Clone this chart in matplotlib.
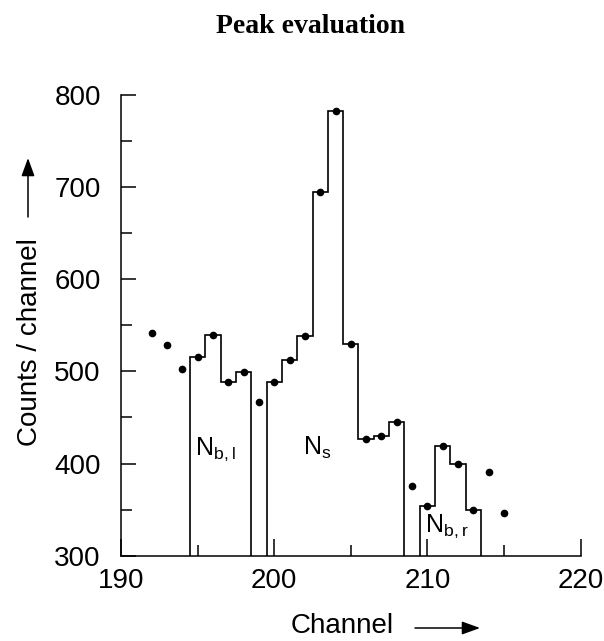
import matplotlib
matplotlib.use('Agg')
import matplotlib.pyplot as plt
import numpy as np
from matplotlib.ticker import MultipleLocator

# counts per channel (dots)
channels = np.arange(192, 216)
counts = [542, 529, 503, 516, 539, 489, 499, 467, 489, 512, 538, 695,
          783, 530, 427, 430, 445, 376, 354, 419, 399, 350, 391, 346]

# channels that belong to the three histogram regions
left_bg = [195, 196, 197, 198]
signal = [200, 201, 202, 203, 204, 205, 206, 207, 208]
right_bg = [210, 211, 212, 213]

region_labels = [r'N$_{\mathrm{b,l}}$', r'N$_{\mathrm{s}}$', r'N$_{\mathrm{b,r}}$']
label_pos = [(194.85, 409), (201.9, 409), (209.85, 326)]

xticks = [190, 200, 210, 220]
yticks = [300, 400, 500, 600, 700, 800]

plt.rcParams['font.family'] = 'Liberation Sans'
plt.rcParams['mathtext.fontset'] = 'custom'
plt.rcParams['mathtext.rm'] = 'Liberation Sans'

fig = plt.figure(figsize=(6.04, 6.41), dpi=100)
ax = fig.add_axes([0.2003, 0.1331, 0.7611, 0.7187])

lookup = dict(zip(channels, counts))
for region in (left_bg, signal, right_bg):
    vals = [lookup[c] for c in region]
    edges = np.append(np.array(region) - 0.5, region[-1] + 0.5)
    ax.stairs(vals, edges, baseline=300, color='black', lw=1.2)

ax.plot(channels, counts, 'o', color='black', ms=4.5)

for txt, (x, y) in zip(region_labels, label_pos):
    ax.text(x, y, txt, fontsize=18, ha='left', va='baseline')

ax.set_xlim(190, 220)
ax.set_ylim(300, 800)
ax.set_xticks(xticks)
ax.set_yticks(yticks)
ax.xaxis.set_minor_locator(MultipleLocator(5))
ax.yaxis.set_minor_locator(MultipleLocator(50))
ax.spines[['top', 'right']].set_visible(False)
for s in ('left', 'bottom'):
    ax.spines[s].set_linewidth(1.1)

ax.tick_params(axis='y', which='major', direction='in', length=10.8, width=1.1, pad=14.5, labelsize=20)
ax.tick_params(axis='y', which='minor', direction='in', length=8, width=1.1)
ax.tick_params(axis='x', which='major', direction='in', length=12, width=1.1, pad=8.6, labelsize=20)
ax.tick_params(axis='x', which='minor', direction='in', length=8, width=1.1)

# title and axis labels placed by pixel position
fig.text(311 / 604, 1 - 33 / 641, 'Peak evaluation', family='Liberation Serif',
         weight='bold', fontsize=20, ha='center', va='baseline')
fig.text(342.5 / 604, 1 - 633 / 641, 'Channel', fontsize=20, ha='center', va='baseline')
fig.text(37 / 604, 1 - 342.5 / 641, 'Counts / channel', fontsize=20, rotation=90,
         rotation_mode='anchor', ha='center', va='baseline')

arrow = dict(arrowstyle='-|>,head_length=0.55,head_width=0.2', color='black',
             lw=1.1, mutation_scale=20, shrinkA=0, shrinkB=0)
ax.annotate('', xy=(480, 641 - 628), xytext=(415, 641 - 628),
            xycoords='figure pixels', textcoords='figure pixels', arrowprops=arrow)
ax.annotate('', xy=(28, 641 - 158), xytext=(28, 641 - 217),
            xycoords='figure pixels', textcoords='figure pixels', arrowprops=arrow)

fig.savefig('out.png', dpi=100)
